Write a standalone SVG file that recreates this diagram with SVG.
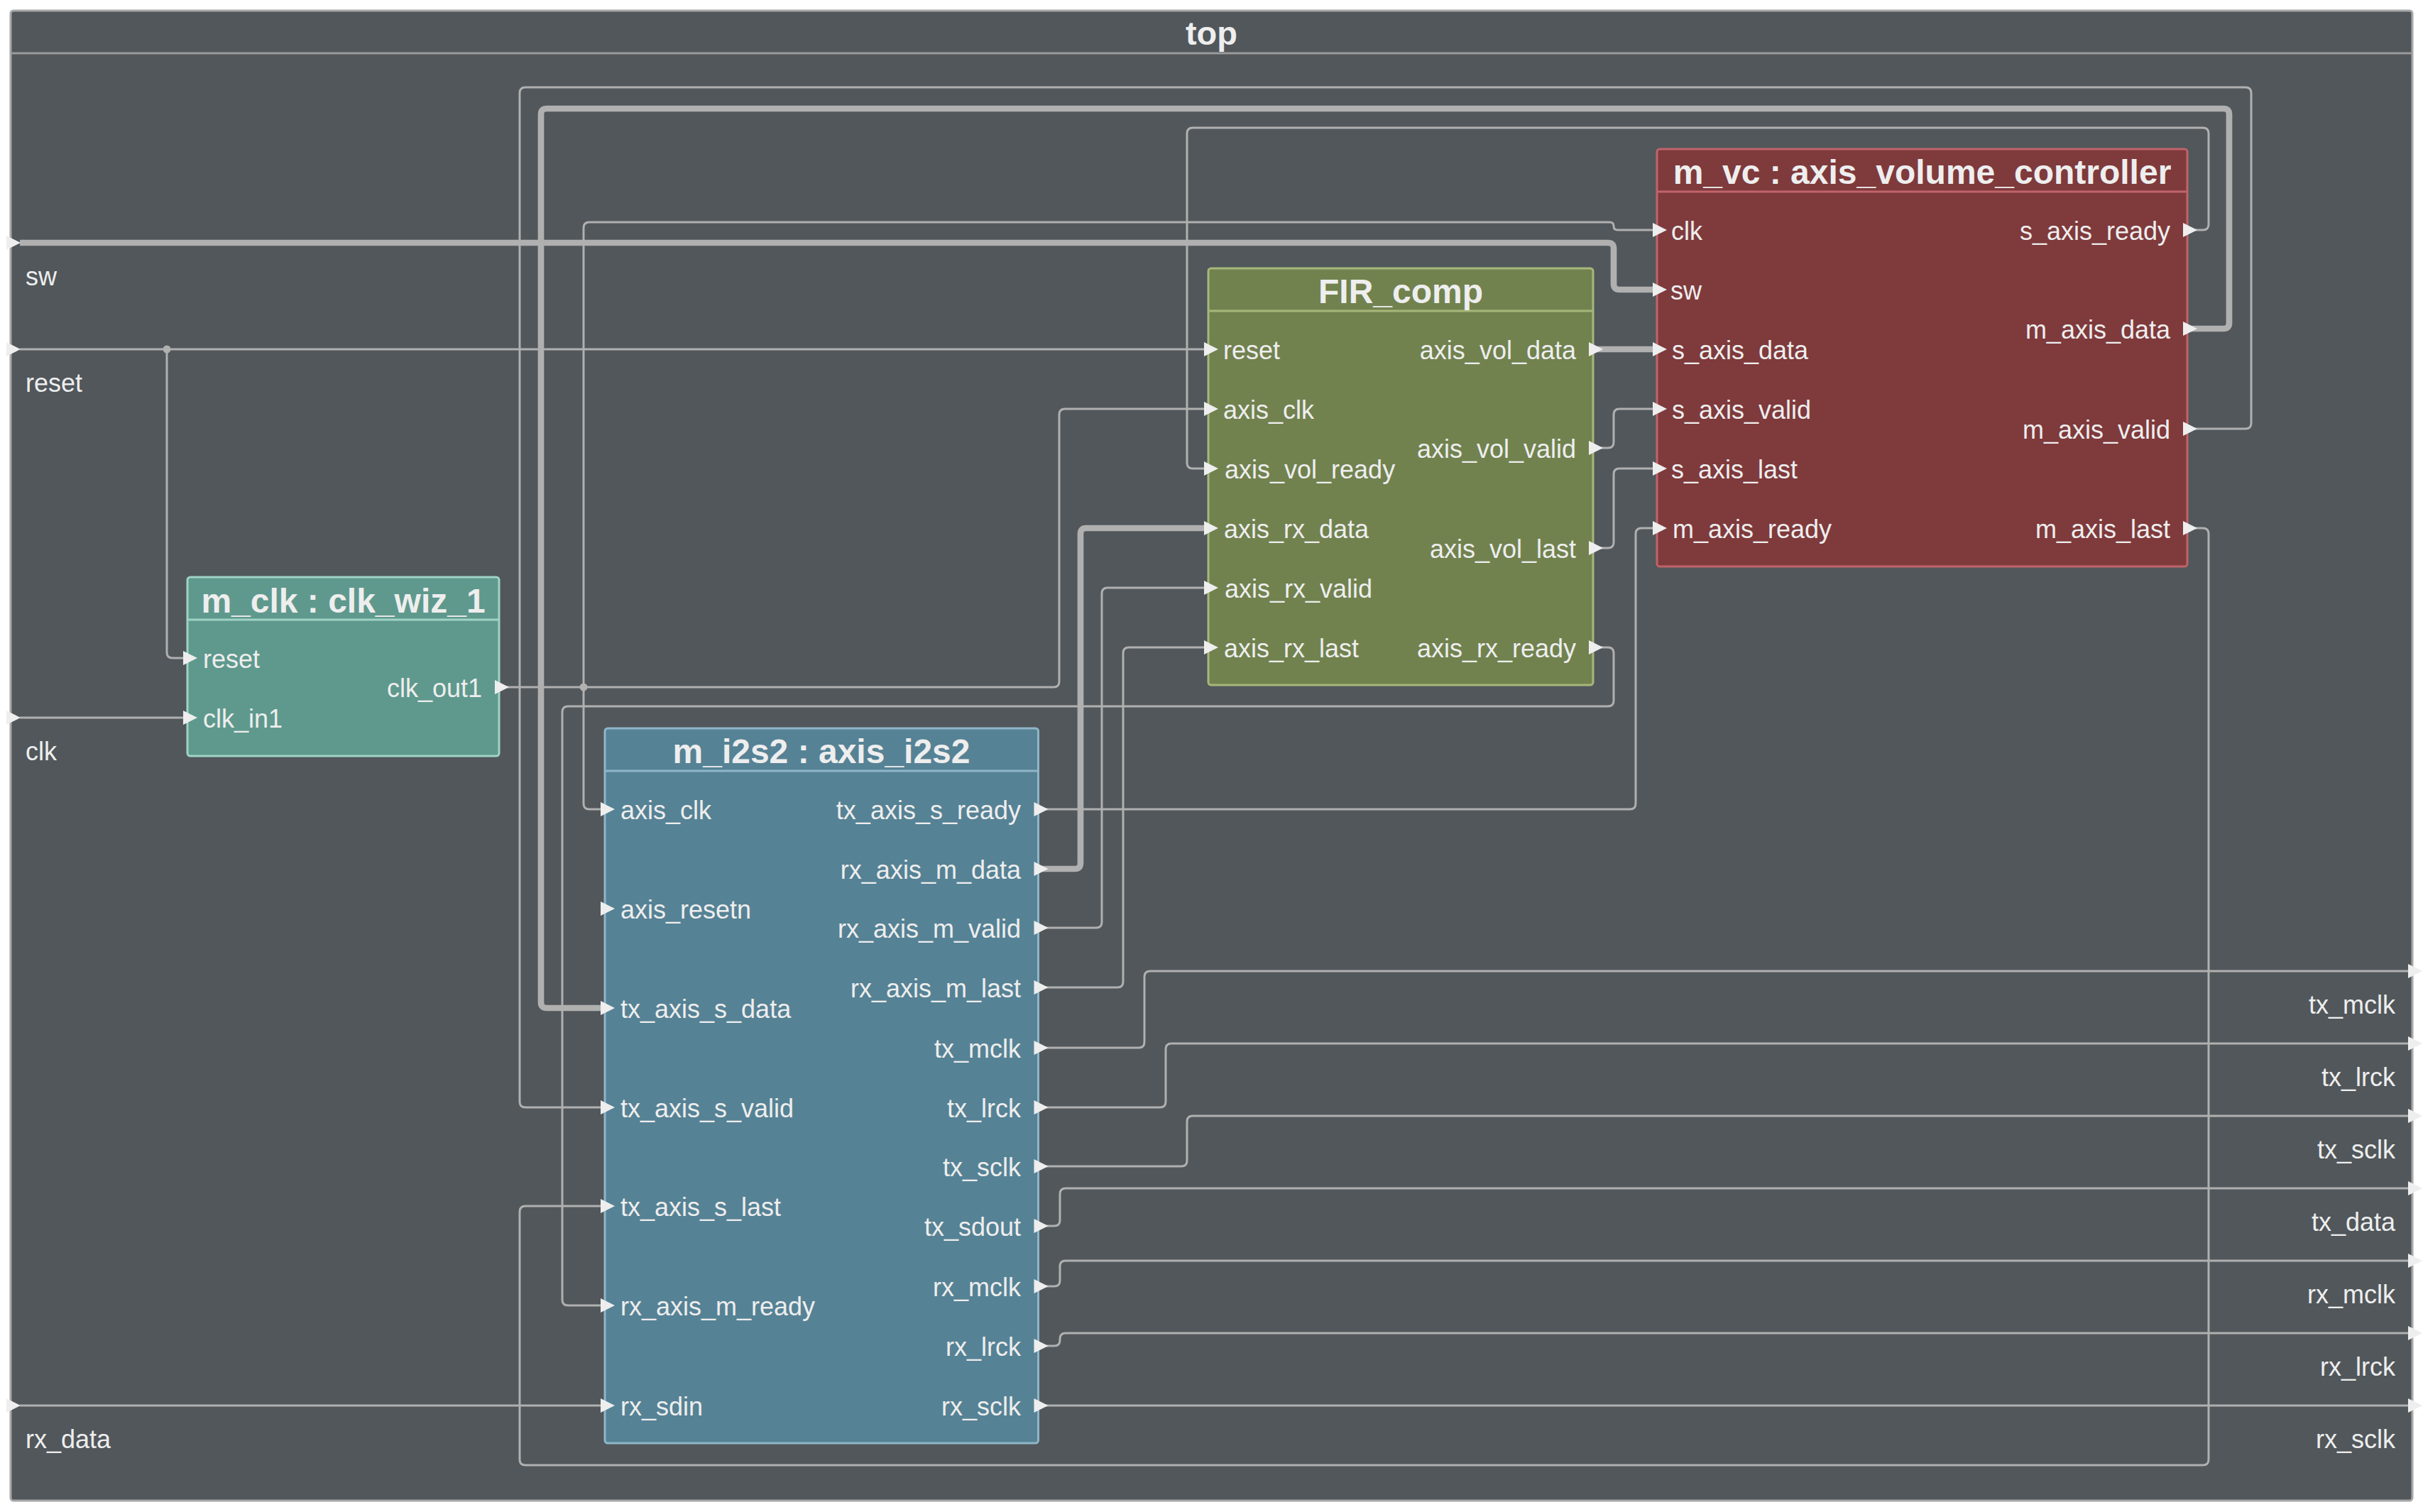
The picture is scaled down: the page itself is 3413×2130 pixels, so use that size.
<svg xmlns="http://www.w3.org/2000/svg" xmlns:xlink="http://www.w3.org/1999/xlink" width="3413" height="2130" viewBox="0 0 3413 2130">
<style>
.w{fill:none;stroke:#b0b0b0;stroke-width:3;stroke-linejoin:round}
.wb{stroke-width:8.7}
.t{font-family:"Liberation Sans",Arial,sans-serif;font-size:36px;fill:#eeeeee}
.r{text-anchor:end}
.tt{font-family:"Liberation Sans",Arial,sans-serif;font-size:48px;font-weight:bold;fill:#eeeeee;text-anchor:middle}
.dot{fill:#b0b0b0}
</style>
<defs>
<path id="arr" d="M-6 -10 L14 0 L-6 10 Z" fill="#eeeeee"/>
</defs>
<rect x="0" y="0" width="3413" height="2130" fill="#ffffff"/>
<g id="top">
<rect x="15" y="15" width="3383" height="2099" rx="4" fill="#51575b" stroke="#a8a8a8" stroke-width="3"/>
<line x1="15" y1="75" x2="3398" y2="75" stroke="#9a9a9a" stroke-width="3"/>
<text class="tt" x="1706.5" y="63" style="font-size:47px">top</text>
</g>
<g id="connectors">
<path class="w wb" d="M28 342 H2265 Q2273 342 2273 350 V400 Q2273 408 2281 408 H2334"/>
<path class="w" d="M28 492 H1702"/>
<path class="w" d="M235 492 V919 Q235 927 243 927 H264"/>
<path class="w" d="M28 1011 H264"/>
<path class="w" d="M703 968 H1484 Q1492 968 1492 960 V584 Q1492 576 1500 576 H1702"/>
<path class="w" d="M852 1140 H830 Q822 1140 822 1132 V321 Q822 313 830 313 H2267.5 Q2273 313 2273 318.5 Q2273 324 2278.5 324 H2334"/>
<path class="w wb" d="M3081 463 H3132 Q3140 463 3140 455 V161 Q3140 153 3132 153 H770 Q762 153 762 161 V1412 Q762 1420 770 1420 H852"/>
<path class="w" d="M3081 604 H3163 Q3171 604 3171 596 V131 Q3171 123 3163 123 H740 Q732 123 732 131 V1552 Q732 1560 740 1560 H852"/>
<path class="w" d="M3081 324 H3103 Q3111 324 3111 316 V188 Q3111 180 3103 180 H1680 Q1672 180 1672 188 V652 Q1672 660 1680 660 H1702"/>
<path class="w" d="M3081 744 H3103 Q3111 744 3111 752 V2056 Q3111 2064 3103 2064 H740 Q732 2064 732 2056 V1707 Q732 1699 740 1699 H852"/>
<path class="w wb" d="M2244 492 H2334"/>
<path class="w" d="M2244 631 H2265 Q2273 631 2273 623 V584 Q2273 576 2281 576 H2334"/>
<path class="w" d="M2244 772 H2265 Q2273 772 2273 764 V668 Q2273 660 2281 660 H2334"/>
<path class="w" d="M2244 912 H2265 Q2273 912 2273 920 V987 Q2273 995 2265 995 H800 Q792 995 792 1003 V1831 Q792 1839 800 1839 H852"/>
<path class="w" d="M1462 1140 H2296 Q2304 1140 2304 1132 V752 Q2304 744 2312 744 H2334"/>
<path class="w wb" d="M1462 1224 H1514 Q1522 1224 1522 1216 V752 Q1522 744 1530 744 H1702"/>
<path class="w" d="M1462 1307 H1544 Q1552 1307 1552 1299 V836 Q1552 828 1560 828 H1702"/>
<path class="w" d="M1462 1391 H1574 Q1582 1391 1582 1383 V920 Q1582 912 1590 912 H1702"/>
<path class="w" d="M1462 1476 H1604 Q1612 1476 1612 1468 V1376 Q1612 1368 1620 1368 H3398"/>
<path class="w" d="M1462 1560 H1634 Q1642 1560 1642 1552 V1478 Q1642 1470 1650 1470 H3398"/>
<path class="w" d="M1462 1643 H1664 Q1672 1643 1672 1635 V1580 Q1672 1572 1680 1572 H3398"/>
<path class="w" d="M1462 1727 H1485 Q1493 1727 1493 1719 V1682 Q1493 1674 1501 1674 H3398"/>
<path class="w" d="M1462 1812 H1485 Q1493 1812 1493 1804 V1784 Q1493 1776 1501 1776 H3398"/>
<path class="w" d="M1462 1896 H1485 Q1493 1896 1493 1888 V1886 Q1493 1878 1501 1878 H3398"/>
<path class="w" d="M1462 1980 H3398"/>
<path class="w" d="M28 1980 H852"/>
<circle class="dot" cx="235" cy="492" r="5.5"/>
<circle class="dot" cx="822" cy="968" r="5.5"/>
</g>
<g id="top_ports">
<use xlink:href="#arr" x="15" y="342"/>
<use xlink:href="#arr" x="15" y="492"/>
<use xlink:href="#arr" x="15" y="1011"/>
<use xlink:href="#arr" x="15" y="1980"/>
<text class="t" x="36" y="402">sw</text>
<text class="t" x="36" y="552">reset</text>
<text class="t" x="36" y="1071">clk</text>
<text class="t" x="36" y="2040">rx_data</text>
<use xlink:href="#arr" x="3398" y="1368"/>
<use xlink:href="#arr" x="3398" y="1470"/>
<use xlink:href="#arr" x="3398" y="1572"/>
<use xlink:href="#arr" x="3398" y="1674"/>
<use xlink:href="#arr" x="3398" y="1776"/>
<use xlink:href="#arr" x="3398" y="1878"/>
<use xlink:href="#arr" x="3398" y="1980"/>
<text class="t r" x="3374" y="1428">tx_mclk</text>
<text class="t r" x="3374" y="1530">tx_lrck</text>
<text class="t r" x="3374" y="1632">tx_sclk</text>
<text class="t r" x="3374" y="1734">tx_data</text>
<text class="t r" x="3374" y="1836">rx_mclk</text>
<text class="t r" x="3374" y="1938">rx_lrck</text>
<text class="t r" x="3374" y="2040">rx_sclk</text>
</g>
<g id="m_clk">
<rect x="264" y="813" width="439" height="252" rx="4" fill="#5f998d" stroke="#9fd3c6" stroke-width="3"/>
<line x1="264" y1="873" x2="703" y2="873" stroke="#9fd3c6" stroke-width="3"/>
<text class="tt" x="483.5" y="863">m_clk : clk_wiz_1</text>
<use xlink:href="#arr" x="264" y="927"/>
<use xlink:href="#arr" x="264" y="1011"/>
<use xlink:href="#arr" x="703" y="968"/>
<text class="t" x="286" y="941">reset</text>
<text class="t" x="286" y="1025">clk_in1</text>
<text class="t r" x="679" y="982">clk_out1</text>
</g>
<g id="m_i2s2">
<rect x="852" y="1026" width="610.5" height="1007" rx="4" fill="#568295" stroke="#8fb6c8" stroke-width="3"/>
<line x1="852" y1="1086" x2="1462.5" y2="1086" stroke="#8fb6c8" stroke-width="3"/>
<text class="tt" x="1157" y="1075">m_i2s2 : axis_i2s2</text>
<use xlink:href="#arr" x="852" y="1140"/>
<use xlink:href="#arr" x="852" y="1280"/>
<use xlink:href="#arr" x="852" y="1420"/>
<use xlink:href="#arr" x="852" y="1560"/>
<use xlink:href="#arr" x="852" y="1699"/>
<use xlink:href="#arr" x="852" y="1839"/>
<use xlink:href="#arr" x="852" y="1980"/>
<text class="t" x="874" y="1154">axis_clk</text>
<text class="t" x="874" y="1294">axis_resetn</text>
<text class="t" x="874" y="1434">tx_axis_s_data</text>
<text class="t" x="874" y="1574">tx_axis_s_valid</text>
<text class="t" x="874" y="1713">tx_axis_s_last</text>
<text class="t" x="874" y="1853">rx_axis_m_ready</text>
<text class="t" x="874" y="1994">rx_sdin</text>
<use xlink:href="#arr" x="1462.5" y="1140"/>
<use xlink:href="#arr" x="1462.5" y="1224"/>
<use xlink:href="#arr" x="1462.5" y="1307"/>
<use xlink:href="#arr" x="1462.5" y="1391"/>
<use xlink:href="#arr" x="1462.5" y="1476"/>
<use xlink:href="#arr" x="1462.5" y="1560"/>
<use xlink:href="#arr" x="1462.5" y="1643"/>
<use xlink:href="#arr" x="1462.5" y="1727"/>
<use xlink:href="#arr" x="1462.5" y="1812"/>
<use xlink:href="#arr" x="1462.5" y="1896"/>
<use xlink:href="#arr" x="1462.5" y="1980"/>
<text class="t r" x="1438" y="1154">tx_axis_s_ready</text>
<text class="t r" x="1438" y="1238">rx_axis_m_data</text>
<text class="t r" x="1438" y="1321">rx_axis_m_valid</text>
<text class="t r" x="1438" y="1405">rx_axis_m_last</text>
<text class="t r" x="1438" y="1490">tx_mclk</text>
<text class="t r" x="1438" y="1574">tx_lrck</text>
<text class="t r" x="1438" y="1657">tx_sclk</text>
<text class="t r" x="1438" y="1741">tx_sdout</text>
<text class="t r" x="1438" y="1826">rx_mclk</text>
<text class="t r" x="1438" y="1910">rx_lrck</text>
<text class="t r" x="1438" y="1994">rx_sclk</text>
</g>
<g id="FIR_comp">
<rect x="1702" y="378" width="542" height="587" rx="4" fill="#71824f" stroke="#a7b77b" stroke-width="3"/>
<line x1="1702" y1="438" x2="2244" y2="438" stroke="#a7b77b" stroke-width="3"/>
<text class="tt" x="1973" y="427">FIR_comp</text>
<use xlink:href="#arr" x="1702" y="492"/>
<use xlink:href="#arr" x="1702" y="576"/>
<use xlink:href="#arr" x="1702" y="660"/>
<use xlink:href="#arr" x="1702" y="744"/>
<use xlink:href="#arr" x="1702" y="828"/>
<use xlink:href="#arr" x="1702" y="912"/>
<text class="t" x="1723" y="506">reset</text>
<text class="t" x="1723" y="590">axis_clk</text>
<text class="t" x="1725" y="674">axis_vol_ready</text>
<text class="t" x="1724" y="758">axis_rx_data</text>
<text class="t" x="1725" y="842">axis_rx_valid</text>
<text class="t" x="1724" y="926">axis_rx_last</text>
<use xlink:href="#arr" x="2244" y="492"/>
<use xlink:href="#arr" x="2244" y="631"/>
<use xlink:href="#arr" x="2244" y="772"/>
<use xlink:href="#arr" x="2244" y="912"/>
<text class="t r" x="2220" y="506">axis_vol_data</text>
<text class="t r" x="2220" y="645">axis_vol_valid</text>
<text class="t r" x="2220" y="786">axis_vol_last</text>
<text class="t r" x="2220" y="926">axis_rx_ready</text>
</g>
<g id="m_vc">
<rect x="2334" y="210" width="747" height="588" rx="4" fill="#7f3a3c" stroke="#c0646a" stroke-width="3"/>
<line x1="2334" y1="270" x2="3081" y2="270" stroke="#c0646a" stroke-width="3"/>
<text class="tt" x="2707.5" y="259">m_vc : axis_volume_controller</text>
<use xlink:href="#arr" x="2334" y="324"/>
<use xlink:href="#arr" x="2334" y="408"/>
<use xlink:href="#arr" x="2334" y="492"/>
<use xlink:href="#arr" x="2334" y="576"/>
<use xlink:href="#arr" x="2334" y="660"/>
<use xlink:href="#arr" x="2334" y="744"/>
<text class="t" x="2354" y="338">clk</text>
<text class="t" x="2353" y="422">sw</text>
<text class="t" x="2355" y="506">s_axis_data</text>
<text class="t" x="2355" y="590">s_axis_valid</text>
<text class="t" x="2354" y="674">s_axis_last</text>
<text class="t" x="2356" y="758">m_axis_ready</text>
<use xlink:href="#arr" x="3081" y="324"/>
<use xlink:href="#arr" x="3081" y="463"/>
<use xlink:href="#arr" x="3081" y="604"/>
<use xlink:href="#arr" x="3081" y="744"/>
<text class="t r" x="3057" y="338">s_axis_ready</text>
<text class="t r" x="3057" y="477">m_axis_data</text>
<text class="t r" x="3057" y="618">m_axis_valid</text>
<text class="t r" x="3057" y="758">m_axis_last</text>
</g>
</svg>
